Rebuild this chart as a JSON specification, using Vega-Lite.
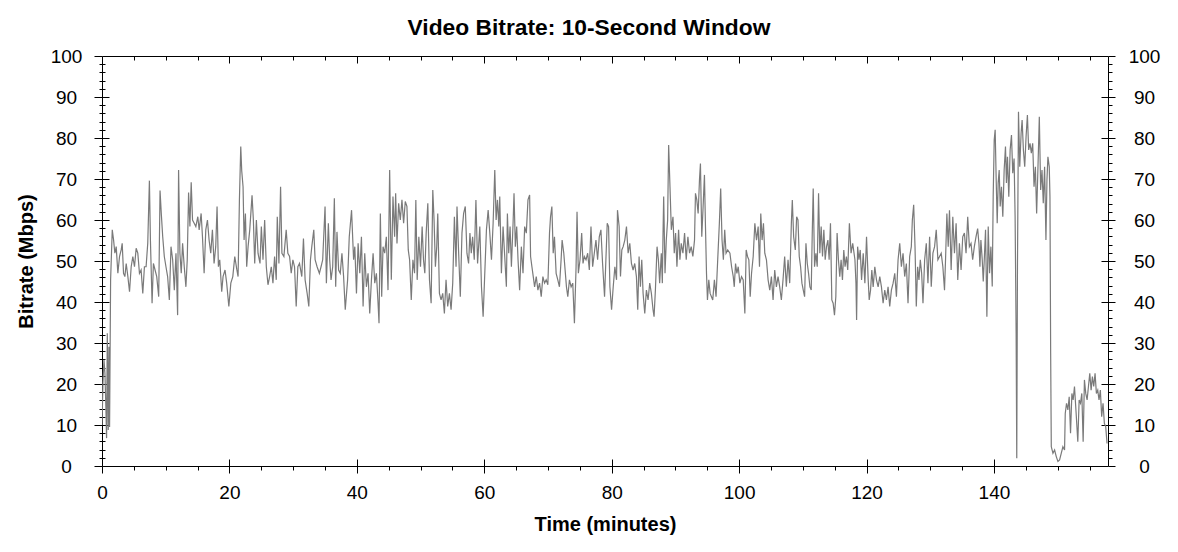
{
"$schema": "https://vega.github.io/schema/vega-lite/v6.json",
"width": 1006,
"height": 410,
"autosize": {"type": "none"},
"padding": {"left": 102, "top": 56, "right": 70, "bottom": 86},
"background": "white",
"title": {"text": "Video Bitrate: 10-Second Window", "font": "Liberation Sans", "fontSize": 22.8, "fontWeight": "bold", "color": "#000", "anchor": "middle", "frame": "group", "dx": -16, "baseline": "alphabetic", "offset": -11},
"data": {"values": [
{"t":0,"mbps":10},{"t":0.15,"mbps":20.2},{"t":0.31,"mbps":25.9},{"t":0.46,"mbps":22.6},{"t":0.62,"mbps":13.7},{"t":0.72,"mbps":6.8},{"t":0.83,"mbps":32.4},{"t":0.98,"mbps":8.8},{"t":1.09,"mbps":29.1},{"t":1.19,"mbps":9.5},{"t":1.35,"mbps":45.4},{"t":1.61,"mbps":57.6},{"t":1.82,"mbps":55.1},{"t":2.02,"mbps":51.9},{"t":2.23,"mbps":53.5},{"t":2.49,"mbps":47},{"t":2.75,"mbps":51.1},{"t":3.01,"mbps":52.7},{"t":3.17,"mbps":54.3},{"t":3.38,"mbps":47},{"t":3.59,"mbps":46.2},{"t":3.8,"mbps":49.4},{"t":4.06,"mbps":46.2},{"t":4.32,"mbps":42.5},{"t":4.58,"mbps":48.6},{"t":4.84,"mbps":51.1},{"t":5.1,"mbps":48.6},{"t":5.36,"mbps":53.1},{"t":5.62,"mbps":51.9},{"t":5.88,"mbps":47},{"t":6.14,"mbps":47.8},{"t":6.4,"mbps":42.1},{"t":6.66,"mbps":48.6},{"t":6.92,"mbps":48.6},{"t":7.18,"mbps":54.3},{"t":7.44,"mbps":69.6},{"t":7.6,"mbps":55.1},{"t":7.86,"mbps":39.7},{"t":8.07,"mbps":49.4},{"t":8.33,"mbps":47.8},{"t":8.59,"mbps":46.2},{"t":8.9,"mbps":41.3},{"t":9.11,"mbps":67.2},{"t":9.32,"mbps":61.2},{"t":9.53,"mbps":55.9},{"t":9.78,"mbps":51.1},{"t":10.04,"mbps":48.6},{"t":10.3,"mbps":46.2},{"t":10.57,"mbps":40.5},{"t":10.83,"mbps":53.5},{"t":11.09,"mbps":50.3},{"t":11.35,"mbps":42.9},{"t":11.61,"mbps":51.9},{"t":11.87,"mbps":36.8},{"t":12.02,"mbps":72.2},{"t":12.23,"mbps":51.9},{"t":12.44,"mbps":47},{"t":12.65,"mbps":54.3},{"t":12.91,"mbps":48.6},{"t":13.17,"mbps":43.7},{"t":13.38,"mbps":50.3},{"t":13.59,"mbps":66.7},{"t":13.8,"mbps":58.4},{"t":14.0,"mbps":69.2},{"t":14.21,"mbps":60},{"t":14.47,"mbps":59.2},{"t":14.73,"mbps":58.4},{"t":15.04,"mbps":60.8},{"t":15.25,"mbps":57.6},{"t":15.56,"mbps":61.6},{"t":15.77,"mbps":55.9},{"t":16.03,"mbps":47},{"t":16.29,"mbps":57.6},{"t":16.55,"mbps":60},{"t":16.81,"mbps":55.1},{"t":17.07,"mbps":51.9},{"t":17.33,"mbps":57.6},{"t":17.59,"mbps":49.4},{"t":17.85,"mbps":53.5},{"t":18.06,"mbps":63.3},{"t":18.27,"mbps":48.6},{"t":18.48,"mbps":50.3},{"t":18.79,"mbps":42.5},{"t":19.0,"mbps":46.2},{"t":19.31,"mbps":47.8},{"t":19.57,"mbps":44.6},
{"t":19.91,"mbps":38.9},{"t":20.22,"mbps":44.6},{"t":20.53,"mbps":46.2},{"t":20.84,"mbps":51.1},{"t":21.15,"mbps":48},{"t":21.36,"mbps":46.2},{"t":21.57,"mbps":65},{"t":21.78,"mbps":77.9},{"t":21.93,"mbps":72},{"t":22.14,"mbps":68.1},{"t":22.3,"mbps":55.1},{"t":22.51,"mbps":61.6},{"t":22.71,"mbps":48.6},{"t":22.93,"mbps":53.5},{"t":23.19,"mbps":57.6},{"t":23.55,"mbps":66},{"t":23.76,"mbps":60},{"t":23.97,"mbps":49.4},{"t":24.23,"mbps":60},{"t":24.49,"mbps":51.9},{"t":24.8,"mbps":49.4},{"t":25.01,"mbps":58.4},{"t":25.27,"mbps":50.3},{"t":25.53,"mbps":60},{"t":25.79,"mbps":48.6},{"t":26.05,"mbps":44.2},{"t":26.31,"mbps":46.2},{"t":26.57,"mbps":48.6},{"t":26.83,"mbps":44.6},{"t":27.09,"mbps":51.1},{"t":27.35,"mbps":45.4},{"t":27.51,"mbps":60.8},{"t":27.77,"mbps":49.4},{"t":28.03,"mbps":68.1},{"t":28.24,"mbps":51.9},{"t":28.55,"mbps":51.1},{"t":28.91,"mbps":57.6},{"t":29.17,"mbps":51.9},{"t":29.44,"mbps":51.1},{"t":29.7,"mbps":47},{"t":29.96,"mbps":50.3},{"t":30.22,"mbps":48.6},{"t":30.48,"mbps":38.9},{"t":30.74,"mbps":48.6},{"t":31.0,"mbps":49.4},{"t":31.36,"mbps":46.2},{"t":31.62,"mbps":55.5},{"t":31.88,"mbps":45.4},{"t":32.2,"mbps":42.1},{"t":32.46,"mbps":38.9},{"t":32.72,"mbps":50.3},{"t":32.93,"mbps":53.5},{"t":33.24,"mbps":57.6},{"t":33.45,"mbps":50.3},{"t":33.76,"mbps":48.6},{"t":34.12,"mbps":47},{"t":34.38,"mbps":48.6},{"t":34.64,"mbps":50.3},{"t":35.01,"mbps":63.3},{"t":35.22,"mbps":44.6},{"t":35.53,"mbps":59.2},{"t":35.74,"mbps":50.3},{"t":35.95,"mbps":45.4},{"t":36.21,"mbps":48.6},{"t":36.47,"mbps":65.3},{"t":36.68,"mbps":43.7},{"t":36.88,"mbps":57.1},{"t":37.14,"mbps":47.8},{"t":37.4,"mbps":47},{"t":37.66,"mbps":51.9},{"t":37.92,"mbps":46.2},{"t":38.18,"mbps":38.1},{"t":38.55,"mbps":45.4},{"t":38.81,"mbps":55.9},{"t":39.17,"mbps":62.4},{"t":39.49,"mbps":50.3},
{"t":39.68,"mbps":53.5},{"t":39.94,"mbps":42.1},{"t":40.2,"mbps":54.3},{"t":40.46,"mbps":47},{"t":40.72,"mbps":55.9},{"t":40.98,"mbps":38.9},{"t":41.24,"mbps":51.9},{"t":41.5,"mbps":43.7},{"t":41.76,"mbps":47},{"t":42.02,"mbps":37.2},{"t":42.29,"mbps":45.4},{"t":42.55,"mbps":51.9},{"t":42.81,"mbps":44.6},{"t":43.07,"mbps":47},{"t":43.33,"mbps":39.7},{"t":43.48,"mbps":34.8},{"t":43.69,"mbps":61.6},{"t":43.9,"mbps":41.3},{"t":44.11,"mbps":53.5},{"t":44.37,"mbps":51.9},{"t":44.63,"mbps":55.9},{"t":44.89,"mbps":42.9},{"t":45.15,"mbps":72.2},{"t":45.41,"mbps":45.4},{"t":45.67,"mbps":65.7},{"t":45.93,"mbps":55.9},{"t":46.09,"mbps":66.5},{"t":46.3,"mbps":54.3},{"t":46.56,"mbps":64.1},{"t":46.82,"mbps":60},{"t":47.08,"mbps":64.9},{"t":47.34,"mbps":59.2},{"t":47.6,"mbps":64.5},{"t":47.86,"mbps":63.3},{"t":48.07,"mbps":52.7},{"t":48.28,"mbps":50.3},{"t":48.54,"mbps":40.5},{"t":48.8,"mbps":50.3},{"t":49.06,"mbps":47},{"t":49.26,"mbps":64.9},{"t":49.47,"mbps":45.4},{"t":49.73,"mbps":55.9},{"t":49.99,"mbps":48.6},{"t":50.25,"mbps":58.4},{"t":50.46,"mbps":50.3},{"t":50.67,"mbps":47},{"t":50.88,"mbps":56.8},{"t":51.14,"mbps":64.1},{"t":51.4,"mbps":45.4},{"t":51.66,"mbps":39.7},{"t":51.92,"mbps":67.3},{"t":52.12,"mbps":60},{"t":52.33,"mbps":48.6},{"t":52.54,"mbps":53.5},{"t":52.7,"mbps":61.6},{"t":52.96,"mbps":42.1},{"t":53.22,"mbps":40.5},{"t":53.48,"mbps":42.1},{"t":53.74,"mbps":37.2},{"t":54.0,"mbps":45.4},{"t":54.26,"mbps":38.9},{"t":54.53,"mbps":42.1},{"t":54.79,"mbps":38.1},{"t":55.05,"mbps":44.6},{"t":55.31,"mbps":60.8},{"t":55.57,"mbps":48.6},{"t":55.72,"mbps":63.3},{"t":55.98,"mbps":51.9},{"t":56.24,"mbps":41.3},{"t":56.5,"mbps":56.8},{"t":56.76,"mbps":61.6},{"t":57.02,"mbps":63.3},{"t":57.28,"mbps":51.9},{"t":57.54,"mbps":49.4},{"t":57.75,"mbps":56.8},{"t":57.96,"mbps":51.9},{"t":58.17,"mbps":55.9},{"t":58.43,"mbps":50.3},{"t":58.69,"mbps":64.9},{"t":58.95,"mbps":49.4},
{"t":59.3,"mbps":58.4},{"t":59.56,"mbps":43.7},{"t":59.82,"mbps":36.4},{"t":60.08,"mbps":47},{"t":60.34,"mbps":57.6},{"t":60.61,"mbps":62.4},{"t":60.87,"mbps":56.8},{"t":61.13,"mbps":50.3},{"t":61.39,"mbps":59.2},{"t":61.65,"mbps":72.2},{"t":61.86,"mbps":60},{"t":62.07,"mbps":64.9},{"t":62.28,"mbps":58.4},{"t":62.43,"mbps":65.7},{"t":62.69,"mbps":47},{"t":62.95,"mbps":58.4},{"t":63.21,"mbps":51.1},{"t":63.47,"mbps":43.7},{"t":63.63,"mbps":61.6},{"t":63.84,"mbps":51.9},{"t":64.05,"mbps":58.4},{"t":64.26,"mbps":48.6},{"t":64.52,"mbps":59.2},{"t":64.67,"mbps":66.5},{"t":64.88,"mbps":53.5},{"t":65.09,"mbps":58.4},{"t":65.3,"mbps":50.3},{"t":65.55,"mbps":42.9},{"t":65.82,"mbps":53.5},{"t":66.08,"mbps":47},{"t":66.34,"mbps":58.4},{"t":66.6,"mbps":56.8},{"t":66.86,"mbps":64.9},{"t":67.12,"mbps":66.1},{"t":67.27,"mbps":51.1},{"t":67.48,"mbps":48.6},{"t":67.69,"mbps":46.2},{"t":67.9,"mbps":43.7},{"t":68.16,"mbps":46.2},{"t":68.42,"mbps":42.9},{"t":68.68,"mbps":44.6},{"t":68.94,"mbps":41.3},{"t":69.2,"mbps":46.2},{"t":69.46,"mbps":44.6},{"t":69.72,"mbps":45.4},{"t":69.98,"mbps":44.2},{"t":70.24,"mbps":56.8},{"t":70.4,"mbps":60.8},{"t":70.61,"mbps":63.3},{"t":70.82,"mbps":51.9},{"t":71.02,"mbps":55.9},{"t":71.28,"mbps":47},{"t":71.54,"mbps":45.4},{"t":71.8,"mbps":43.7},{"t":72.06,"mbps":50.3},{"t":72.22,"mbps":55.1},{"t":72.48,"mbps":51.9},{"t":72.69,"mbps":47.8},{"t":72.9,"mbps":43.7},{"t":73.11,"mbps":41.3},{"t":73.37,"mbps":45.4},{"t":73.63,"mbps":43.7},{"t":73.89,"mbps":44.6},{"t":74.15,"mbps":34.8},{"t":74.41,"mbps":48.6},{"t":74.56,"mbps":62},{"t":74.77,"mbps":47},{"t":75.03,"mbps":50.3},{"t":75.29,"mbps":56.8},{"t":75.5,"mbps":49.4},{"t":75.71,"mbps":51.1},{"t":75.97,"mbps":50.3},{"t":76.23,"mbps":51.9},{"t":76.49,"mbps":47.8},{"t":76.75,"mbps":58.4},{"t":77.01,"mbps":48.6},{"t":77.27,"mbps":51.9},{"t":77.53,"mbps":55.1},{"t":77.79,"mbps":50.3},{"t":78.05,"mbps":55.9},{"t":78.31,"mbps":57.6},{"t":78.57,"mbps":49.4},
{"t":78.88,"mbps":41.3},{"t":79.09,"mbps":50.3},{"t":79.3,"mbps":59.2},{"t":79.51,"mbps":58.4},{"t":79.72,"mbps":43.7},{"t":79.98,"mbps":38.1},{"t":80.24,"mbps":43.7},{"t":80.5,"mbps":48.6},{"t":80.76,"mbps":45.4},{"t":80.91,"mbps":62.4},{"t":81.17,"mbps":58.4},{"t":81.38,"mbps":46.2},{"t":81.59,"mbps":52.7},{"t":81.8,"mbps":53.5},{"t":82.06,"mbps":55.1},{"t":82.32,"mbps":58.4},{"t":82.58,"mbps":51.9},{"t":82.84,"mbps":54.3},{"t":83.1,"mbps":49.4},{"t":83.36,"mbps":47.8},{"t":83.62,"mbps":49.4},{"t":83.88,"mbps":46.2},{"t":84.09,"mbps":38.1},{"t":84.3,"mbps":51.1},{"t":84.51,"mbps":43.7},{"t":84.72,"mbps":50.3},{"t":84.93,"mbps":42.1},{"t":85.19,"mbps":37.2},{"t":85.45,"mbps":42.9},{"t":85.71,"mbps":40.5},{"t":85.97,"mbps":44.6},{"t":86.23,"mbps":42.1},{"t":86.49,"mbps":38.1},{"t":86.65,"mbps":36.4},{"t":86.86,"mbps":42.9},{"t":87.12,"mbps":53.5},{"t":87.33,"mbps":50.3},{"t":87.53,"mbps":44.6},{"t":87.79,"mbps":51.9},{"t":87.95,"mbps":44.6},{"t":88.05,"mbps":55.9},{"t":88.16,"mbps":65.7},{"t":88.37,"mbps":47},{"t":88.57,"mbps":55.1},{"t":88.78,"mbps":60},{"t":88.94,"mbps":78.3},{"t":89.15,"mbps":68.1},{"t":89.36,"mbps":57.6},{"t":89.62,"mbps":60.8},{"t":89.82,"mbps":51.9},{"t":90.03,"mbps":56.8},{"t":90.24,"mbps":48.6},{"t":90.5,"mbps":57.6},{"t":90.71,"mbps":50.3},{"t":90.92,"mbps":54.3},{"t":91.18,"mbps":51.9},{"t":91.44,"mbps":56.8},{"t":91.7,"mbps":50.3},{"t":91.96,"mbps":55.9},{"t":92.22,"mbps":51.9},{"t":92.48,"mbps":53.5},{"t":92.74,"mbps":51.1},{"t":93.0,"mbps":55.1},{"t":93.15,"mbps":66.5},{"t":93.36,"mbps":64.9},{"t":93.57,"mbps":61.6},{"t":93.78,"mbps":69.8},{"t":93.93,"mbps":73.8},{"t":94.14,"mbps":55.9},{"t":94.35,"mbps":63.3},{"t":94.56,"mbps":71},{"t":94.72,"mbps":58.4},{"t":94.88,"mbps":47},{"t":95.03,"mbps":40.5},{"t":95.24,"mbps":45.4},{"t":95.45,"mbps":42.1},{"t":95.66,"mbps":41.3},{"t":95.86,"mbps":40.5},{"t":96.12,"mbps":45.4},{"t":96.38,"mbps":41.3},{"t":96.64,"mbps":50.3},{"t":96.9,"mbps":59.2},{"t":97.11,"mbps":67.7},{"t":97.32,"mbps":55.1},{"t":97.53,"mbps":50.3},{"t":97.74,"mbps":57.6},{"t":97.95,"mbps":51.9},{"t":98.21,"mbps":52.7},
{"t":98.56,"mbps":51.9},{"t":98.82,"mbps":48.6},{"t":99.08,"mbps":46.2},{"t":99.24,"mbps":43.7},{"t":99.44,"mbps":49.4},{"t":99.65,"mbps":47},{"t":99.86,"mbps":48.6},{"t":100.12,"mbps":44.6},{"t":100.38,"mbps":46.2},{"t":100.64,"mbps":45.4},{"t":100.9,"mbps":37.2},{"t":101.11,"mbps":52.7},{"t":101.32,"mbps":51.1},{"t":101.53,"mbps":50.3},{"t":101.74,"mbps":41.3},{"t":101.95,"mbps":47},{"t":102.21,"mbps":51.1},{"t":102.47,"mbps":59.2},{"t":102.73,"mbps":55.1},{"t":102.99,"mbps":58.4},{"t":103.2,"mbps":48.6},{"t":103.4,"mbps":61.6},{"t":103.61,"mbps":55.1},{"t":103.82,"mbps":59.2},{"t":104.03,"mbps":51.9},{"t":104.29,"mbps":50.3},{"t":104.55,"mbps":45.4},{"t":104.81,"mbps":42.9},{"t":105.07,"mbps":46.2},{"t":105.33,"mbps":40.5},{"t":105.59,"mbps":47.8},{"t":105.85,"mbps":43.7},{"t":106.11,"mbps":46.2},{"t":106.37,"mbps":43.7},{"t":106.63,"mbps":40.5},{"t":106.89,"mbps":45.4},{"t":107.15,"mbps":51.1},{"t":107.41,"mbps":43.7},{"t":107.68,"mbps":50.3},{"t":107.94,"mbps":44.6},{"t":108.2,"mbps":59.2},{"t":108.35,"mbps":64.9},{"t":108.56,"mbps":55.9},{"t":108.82,"mbps":52.7},{"t":109.03,"mbps":60.8},{"t":109.24,"mbps":60},{"t":109.44,"mbps":51.1},{"t":109.65,"mbps":48.6},{"t":109.86,"mbps":44.6},{"t":110.07,"mbps":42.9},{"t":110.28,"mbps":41.3},{"t":110.49,"mbps":54.3},{"t":110.7,"mbps":49.4},{"t":110.9,"mbps":47},{"t":111.11,"mbps":43.7},{"t":111.32,"mbps":42.9},{"t":111.48,"mbps":56.8},{"t":111.63,"mbps":67.7},{"t":111.84,"mbps":48.6},{"t":112.05,"mbps":51.9},{"t":112.26,"mbps":48.6},{"t":112.47,"mbps":66.5},{"t":112.67,"mbps":51.9},{"t":112.88,"mbps":58.4},{"t":113.09,"mbps":51.1},{"t":113.3,"mbps":57.6},{"t":113.51,"mbps":50.3},{"t":113.72,"mbps":53.5},{"t":113.93,"mbps":55.1},{"t":114.13,"mbps":50.3},{"t":114.34,"mbps":59.2},{"t":114.55,"mbps":40.5},{"t":114.76,"mbps":39.7},{"t":114.97,"mbps":36.8},{"t":115.18,"mbps":41.3},{"t":115.38,"mbps":56.8},{"t":115.59,"mbps":50.3},{"t":115.8,"mbps":46.2},{"t":116.01,"mbps":50.3},{"t":116.22,"mbps":45.4},{"t":116.43,"mbps":52.7},{"t":116.63,"mbps":48.6},{"t":116.84,"mbps":51.1},{"t":117.05,"mbps":47.8},{"t":117.31,"mbps":59.2},{"t":117.57,"mbps":51.9},{"t":117.83,"mbps":54.3},
{"t":118.18,"mbps":50.3},{"t":118.34,"mbps":44.6},{"t":118.44,"mbps":35.6},{"t":118.6,"mbps":53.5},{"t":118.81,"mbps":50.3},{"t":119.01,"mbps":52.7},{"t":119.22,"mbps":45.4},{"t":119.48,"mbps":51.9},{"t":119.74,"mbps":44.6},{"t":120.0,"mbps":55.9},{"t":120.26,"mbps":45.4},{"t":120.42,"mbps":40.5},{"t":120.63,"mbps":42.9},{"t":120.83,"mbps":47.8},{"t":121.04,"mbps":43.7},{"t":121.3,"mbps":48.6},{"t":121.56,"mbps":45.4},{"t":121.82,"mbps":43.7},{"t":122.08,"mbps":46.2},{"t":122.34,"mbps":43.7},{"t":122.6,"mbps":39.7},{"t":122.86,"mbps":42.9},{"t":123.12,"mbps":40.5},{"t":123.38,"mbps":43.7},{"t":123.64,"mbps":38.9},{"t":123.9,"mbps":42.9},{"t":124.17,"mbps":44.6},{"t":124.43,"mbps":47},{"t":124.69,"mbps":41.3},{"t":124.95,"mbps":50.3},{"t":125.21,"mbps":54.3},{"t":125.47,"mbps":48.6},{"t":125.73,"mbps":51.9},{"t":125.99,"mbps":46.2},{"t":126.25,"mbps":49.4},{"t":126.51,"mbps":39.7},{"t":126.77,"mbps":51.1},{"t":127.03,"mbps":53.5},{"t":127.19,"mbps":60},{"t":127.4,"mbps":63.7},{"t":127.61,"mbps":53.5},{"t":127.81,"mbps":38.9},{"t":128.02,"mbps":48.6},{"t":128.23,"mbps":45.4},{"t":128.44,"mbps":50.3},{"t":128.65,"mbps":47},{"t":128.86,"mbps":39.7},{"t":129.12,"mbps":50.3},{"t":129.38,"mbps":54.3},{"t":129.64,"mbps":44.6},{"t":129.9,"mbps":55.9},{"t":130.16,"mbps":43.7},{"t":130.42,"mbps":51.9},{"t":130.68,"mbps":53.5},{"t":130.94,"mbps":57.6},{"t":131.2,"mbps":50.3},{"t":131.46,"mbps":51.1},{"t":131.72,"mbps":51.9},{"t":131.98,"mbps":48.6},{"t":132.24,"mbps":42.9},{"t":132.4,"mbps":50.3},{"t":132.61,"mbps":61.6},{"t":132.82,"mbps":53.5},{"t":133.02,"mbps":62.4},{"t":133.28,"mbps":47.8},{"t":133.54,"mbps":60.8},{"t":133.8,"mbps":51.9},{"t":134.06,"mbps":59.2},{"t":134.32,"mbps":45.4},{"t":134.58,"mbps":54.3},{"t":134.84,"mbps":47.8},{"t":135.1,"mbps":55.9},{"t":135.36,"mbps":56.8},{"t":135.62,"mbps":51.9},{"t":135.88,"mbps":60.8},{"t":136.14,"mbps":53.5},{"t":136.4,"mbps":54.3},{"t":136.66,"mbps":50.3},{"t":136.92,"mbps":53.5},{"t":137.18,"mbps":55.9},{"t":137.44,"mbps":57.9},
{"t":137.64,"mbps":54.3},{"t":137.8,"mbps":48.6},{"t":137.95,"mbps":55.1},{"t":138.16,"mbps":50.3},{"t":138.32,"mbps":45},{"t":138.48,"mbps":50.3},{"t":138.68,"mbps":57.6},{"t":138.89,"mbps":36.4},{"t":139.1,"mbps":58.4},{"t":139.31,"mbps":47},{"t":139.52,"mbps":53.5},{"t":139.73,"mbps":43.8},{"t":139.88,"mbps":65.7},{"t":140.04,"mbps":79.5},{"t":140.19,"mbps":82},{"t":140.35,"mbps":69.8},{"t":140.51,"mbps":59.2},{"t":140.66,"mbps":69},{"t":140.82,"mbps":72.2},{"t":140.98,"mbps":63.3},{"t":141.18,"mbps":68.1},{"t":141.39,"mbps":60.8},{"t":141.6,"mbps":72.2},{"t":141.81,"mbps":77.9},{"t":141.96,"mbps":69},{"t":142.12,"mbps":75.4},{"t":142.33,"mbps":65.7},{"t":142.54,"mbps":77.1},{"t":142.75,"mbps":80.7},{"t":142.95,"mbps":71.4},{"t":143.16,"mbps":75},{"t":143.32,"mbps":60.8},{"t":143.48,"mbps":32.4},{"t":143.58,"mbps":1.9},{"t":143.69,"mbps":48.6},{"t":143.85,"mbps":86.4},{"t":144.05,"mbps":73},{"t":144.26,"mbps":81.1},{"t":144.42,"mbps":84.4},{"t":144.62,"mbps":77.1},{"t":144.83,"mbps":73},{"t":145.04,"mbps":80.3},{"t":145.25,"mbps":85.6},{"t":145.45,"mbps":77.1},{"t":145.66,"mbps":78.7},{"t":145.87,"mbps":76.3},{"t":146.08,"mbps":78.7},{"t":146.29,"mbps":68.1},{"t":146.5,"mbps":73},{"t":146.7,"mbps":61.6},{"t":146.91,"mbps":73},{"t":147.12,"mbps":85.2},{"t":147.33,"mbps":67.3},{"t":147.54,"mbps":72.2},{"t":147.74,"mbps":64.1},{"t":147.95,"mbps":73},{"t":148.16,"mbps":55.1},{"t":148.32,"mbps":69.8},{"t":148.47,"mbps":75.4},{"t":148.68,"mbps":73},{"t":148.79,"mbps":65.7},{"t":148.9,"mbps":27.5},{"t":149.0,"mbps":4.7},{"t":149.26,"mbps":3.1},{"t":149.52,"mbps":3.9},{"t":149.78,"mbps":2.3},{"t":150.04,"mbps":1.1},{"t":150.3,"mbps":1.5},{"t":150.56,"mbps":3.1},{"t":150.82,"mbps":4.7},{"t":151.08,"mbps":3.9},{"t":151.19,"mbps":12.8},{"t":151.39,"mbps":15.3},{"t":151.6,"mbps":13.7},{"t":151.81,"mbps":16.9},{"t":152.02,"mbps":8},{"t":152.23,"mbps":17.7},{"t":152.43,"mbps":16.1},{"t":152.64,"mbps":19.4},{"t":152.9,"mbps":12.8},{"t":153.16,"mbps":5.9},{"t":153.37,"mbps":16.1},{"t":153.58,"mbps":15.3},{"t":153.79,"mbps":17.7},{"t":154.0,"mbps":5.9},{"t":154.2,"mbps":21},{"t":154.41,"mbps":17.7},{"t":154.62,"mbps":16.1},{"t":154.83,"mbps":19.4},{"t":155.04,"mbps":22.6},{"t":155.25,"mbps":18.5},{"t":155.45,"mbps":21.8},{"t":155.66,"mbps":19.4},{"t":155.87,"mbps":22.6},{"t":156.08,"mbps":17.7},{"t":156.29,"mbps":18.5},{"t":156.49,"mbps":16.1},{"t":156.7,"mbps":18.5},{"t":156.91,"mbps":12},{"t":157.12,"mbps":15.3},{"t":157.33,"mbps":10.4},{"t":157.54,"mbps":9.6},{"t":157.75,"mbps":5.5}
]},
"resolve": {"axis": {"x": "independent", "y": "independent"}},
"layer": [
{"mark": {"type": "line", "color": "#7a7a7a", "strokeWidth": 1.2, "clip": true},
 "encoding": {
  "x": {"field": "t", "type": "quantitative", "scale": {"domain": [0, 157.9], "nice": false, "zero": false},
   "axis": {"orient": "bottom", "values": [0,20,40,60,80,100,120,140], "tickSize": 7, "labelPadding": 10.5, "labelFontSize": 19, "title": "Time (minutes)", "titleFontSize": 20, "titleFontWeight": "bold", "titleX": 503, "titleY": 64, "titleBaseline": "alphabetic", "domain": true}},
  "y": {"field": "mbps", "type": "quantitative", "scale": {"domain": [0, 100], "nice": false},
   "axis": {"orient": "left", "values": [0,10,20,30,40,50,60,70,80,90,100], "tickSize": 8, "labelAlign": "center", "labelBaseline": "middle", "labelPadding": 28, "labelFontSize": 19, "title": "Bitrate (Mbps)", "titleFontSize": 20, "titleFontWeight": "bold", "titleAngle": 270, "titleX": -70, "titleY": 205, "titleBaseline": "alphabetic", "domain": true}}
 }},
{"transform": [{"filter": "datum.t == 0"}],
 "mark": {"type": "point", "opacity": 0},
 "encoding": {
  "x": {"field": "t", "type": "quantitative", "scale": {"domain": [0, 157.9], "nice": false, "zero": false},
   "axis": {"orient": "bottom", "values": [20,40,60,80,100,120,140], "tickSize": -7, "labels": false, "title": null, "domain": false}},
  "y": {"field": "mbps", "type": "quantitative", "scale": {"domain": [0, 100], "nice": false},
   "axis": {"orient": "left", "values": [10,20,30,40,50,60,70,80,90], "tickSize": -7, "labels": false, "title": null, "domain": false}}
 }},
{"transform": [{"filter": "datum.t == 0"}],
 "mark": {"type": "point", "opacity": 0},
 "encoding": {
  "x": {"field": "t", "type": "quantitative", "scale": {"domain": [0, 157.9], "nice": false, "zero": false},
   "axis": {"orient": "bottom", "values": [5,10,15,25,30,35,45,50,55,65,70,75,85,90,95,105,110,115,125,130,135,145,150,155], "tickSize": 4, "labels": false, "title": null, "domain": false}},
  "y": {"field": "mbps", "type": "quantitative", "scale": {"domain": [0, 100], "nice": false},
   "axis": {"orient": "left", "values": [2,4,6,8,12,14,16,18,22,24,26,28,32,34,36,38,42,44,46,48,52,54,56,58,62,64,66,68,72,74,76,78,82,84,86,88,92,94,96,98], "tickSize": 3, "labels": false, "title": null, "domain": false}}
 }},
{"transform": [{"filter": "datum.t == 0"}],
 "mark": {"type": "point", "opacity": 0},
 "encoding": {
  "x": {"field": "t", "type": "quantitative", "scale": {"domain": [0, 157.9], "nice": false, "zero": false},
   "axis": {"orient": "top", "values": [20,40,60,80,100,120,140], "tickSize": -7, "labels": false, "title": null, "domain": true}},
  "y": {"field": "mbps", "type": "quantitative", "scale": {"domain": [0, 100], "nice": false},
   "axis": {"orient": "left", "values": [2,4,6,8,12,14,16,18,22,24,26,28,32,34,36,38,42,44,46,48,52,54,56,58,62,64,66,68,72,74,76,78,82,84,86,88,92,94,96,98], "tickSize": -3, "labels": false, "title": null, "domain": false}}
 }},
{"transform": [{"filter": "datum.t == 0"}],
 "mark": {"type": "point", "opacity": 0},
 "encoding": {
  "x": {"field": "t", "type": "quantitative", "scale": {"domain": [0, 157.9], "nice": false, "zero": false},
   "axis": {"orient": "top", "values": [5,10,15,25,30,35,45,50,55,65,70,75,85,90,95,105,110,115,125,130,135,145,150,155], "tickSize": -4, "labels": false, "title": null, "domain": false}},
  "y": {"field": "mbps", "type": "quantitative", "scale": {"domain": [0, 100], "nice": false},
   "axis": {"orient": "right", "values": [0,10,20,30,40,50,60,70,80,90,100], "tickSize": 7, "labelAlign": "center", "labelBaseline": "middle", "labelPadding": 29, "labelFontSize": 19, "title": null, "domain": true}}
 }},
{"transform": [{"filter": "datum.t == 0"}],
 "mark": {"type": "point", "opacity": 0},
 "encoding": {
  "x": {"field": "t", "type": "quantitative", "scale": {"domain": [0, 157.9], "nice": false, "zero": false}, "axis": null},
  "y": {"field": "mbps", "type": "quantitative", "scale": {"domain": [0, 100], "nice": false},
   "axis": {"orient": "right", "values": [10,20,30,40,50,60,70,80,90], "tickSize": -7, "labels": false, "title": null, "domain": false}}
 }},
{"transform": [{"filter": "datum.t == 0"}],
 "mark": {"type": "point", "opacity": 0},
 "encoding": {
  "x": {"field": "t", "type": "quantitative", "scale": {"domain": [0, 157.9], "nice": false, "zero": false}, "axis": null},
  "y": {"field": "mbps", "type": "quantitative", "scale": {"domain": [0, 100], "nice": false},
   "axis": {"orient": "right", "values": [2,4,6,8,12,14,16,18,22,24,26,28,32,34,36,38,42,44,46,48,52,54,56,58,62,64,66,68,72,74,76,78,82,84,86,88,92,94,96,98], "tickSize": 4, "labels": false, "title": null, "domain": false}}
 }}
],
"config": {
 "view": {"stroke": null},
 "axis": {"grid": false, "domainColor": "#000", "tickColor": "#000", "labelColor": "#000", "titleColor": "#000", "labelFont": "Liberation Sans", "titleFont": "Liberation Sans", "domainWidth": 1, "tickWidth": 1, "labelFlush": false, "labelOverlap": false, "labelBound": false}
}
}
